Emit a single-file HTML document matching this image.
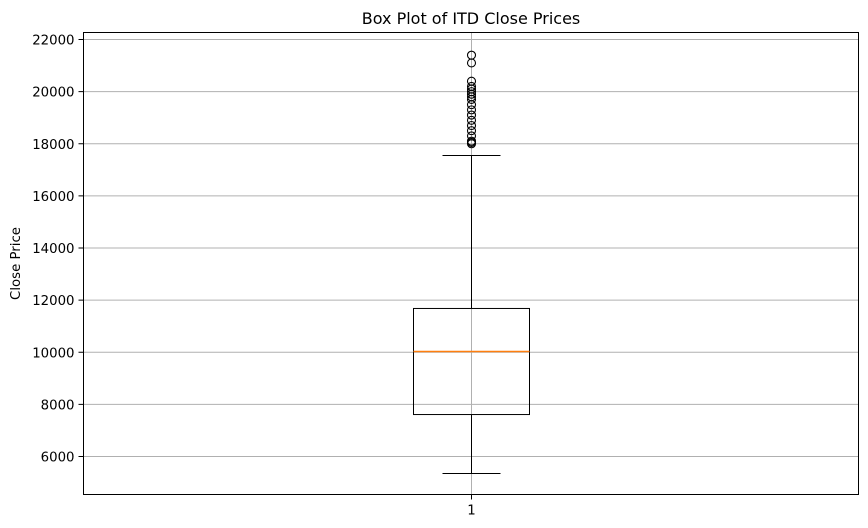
<!DOCTYPE html>
<html><head><meta charset="utf-8"><style>body{margin:0;background:#fff}svg{display:block;font-family:"DejaVu Sans","Liberation Sans",sans-serif}</style></head>
<body>
<svg id="chart" width="868" height="528"></svg>
<script>
const categories = ["1"];
const q1Values = [7610];
const medianValues = [10030];
const q3Values = [11680];
const whiskerLow = [5350];
const whiskerHigh = [17550];
const outliers = [21400,21100,20400,20200,20100,20000,19900,19800,19700,19500,19300,19100,18900,18700,18500,18300,18100,18050,18000];
const yTicks = [6000,8000,10000,12000,14000,16000,18000,20000,22000];

const NS="http://www.w3.org/2000/svg";
const svg=document.getElementById('chart');
const L=83.5,R=858.5,T=32.5,B=494.5;
const y=v=>456.5-(v-6000)*(417/16000);
const x=i=>Math.round(L+(R-L)*(i+0.5)/categories.length)+0.5;
function mk(tag,attrs,parent){const e=document.createElementNS(NS,tag);for(const k in attrs)e.setAttribute(k,attrs[k]);(parent||svg).appendChild(e);return e;}

const grid=mk('g',{});


yTicks.forEach(v=>{
  const gl=mk('line',{x1:L,x2:R,y1:y(v),y2:y(v),stroke:'#b0b0b0','stroke-width':1},grid);
  
  
  const tk=mk('line',{x1:L-5,x2:L,y1:y(v),y2:y(v),stroke:'#000','stroke-width':1});
  
  
  const t=mk('text',{x:L-9,y:y(v)+5,'text-anchor':'end','font-size':13.3});
  t.textContent=v;
  
  
});
categories.forEach((c,i)=>{
  const cx=x(i);
  const gl=mk('line',{x1:cx,x2:cx,y1:T,y2:B,stroke:'#b0b0b0','stroke-width':1},grid);
  
  
  const tk=mk('line',{x1:cx,x2:cx,y1:B,y2:B+5,stroke:'#000','stroke-width':1});
  
  
  const t=mk('text',{x:cx,y:B+20,'text-anchor':'middle','font-size':13.3});
  t.textContent=c;
  
  
  const hw=58,cw=29;
  const g=mk('g',{});
  
  
  const w1=mk('line',{x1:cx,x2:cx,y1:y(q1Values[i]),y2:y(whiskerLow[i]),stroke:'#000'},g);
  
  
  const w2=mk('line',{x1:cx,x2:cx,y1:y(q3Values[i]),y2:y(whiskerHigh[i]),stroke:'#000'},g);
  
  
  const c1=mk('line',{x1:cx-cw,x2:cx+cw,y1:y(whiskerLow[i]),y2:y(whiskerLow[i]),stroke:'#000'},g);
  
  
  const c2=mk('line',{x1:cx-cw,x2:cx+cw,y1:y(whiskerHigh[i]),y2:y(whiskerHigh[i]),stroke:'#000'},g);
  
  
  const bx=mk('rect',{x:cx-hw,y:y(q3Values[i]),width:2*hw,height:y(q1Values[i])-y(q3Values[i]),fill:'none',stroke:'#000'},g);
  
  
  const md=mk('line',{x1:cx-hw,x2:cx+hw,y1:y(medianValues[i]),y2:y(medianValues[i]),stroke:'#ff7f0e','stroke-width':1.5},g);
  
  
  outliers.forEach(v=>{
    const o=mk('circle',{cx:cx,cy:y(v),r:4,fill:'none',stroke:'#000','stroke-width':1.1},g);
    
    
  });
});
const frame=mk('rect',{x:L,y:T,width:R-L,height:B-T,fill:'none',stroke:'#000','stroke-width':1});


const title=mk('text',{x:(L+R)/2,y:24,'text-anchor':'middle','font-size':16});
title.textContent='Box Plot of ITD Close Prices';


const yl=mk('text',{x:20,y:(T+B)/2,'text-anchor':'middle','font-size':13.3,transform:'rotate(-90 20 '+((T+B)/2)+')'});
yl.textContent='Close Price';


</script>
</body></html>
